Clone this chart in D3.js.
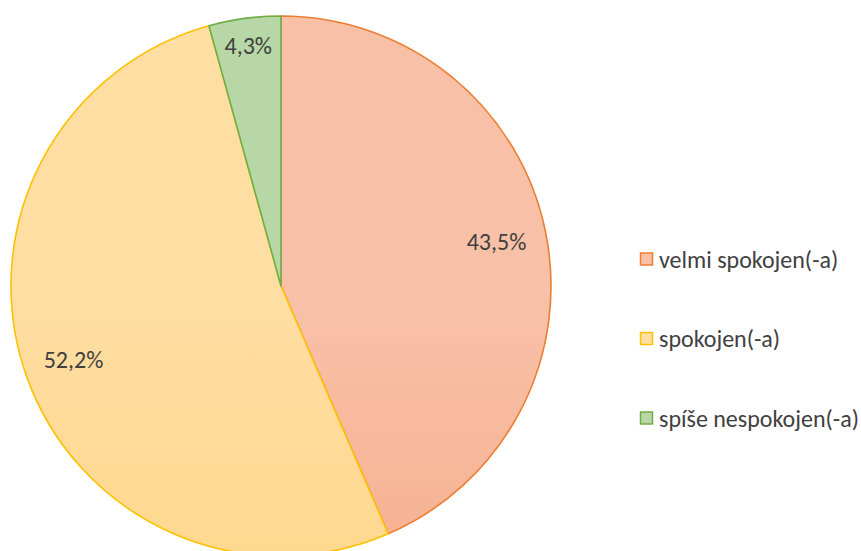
<!DOCTYPE html>
<html>
<head>
<meta charset="utf-8">
<script src="https://cdn.jsdelivr.net/npm/d3@7"></script>
<style>
  body { margin: 0; background: #fff; }
  svg { display: block; font-family: Carlito, "Open Sans", "Noto Sans", sans-serif; }
</style>
</head>
<body>
<svg width="861" height="551"></svg>
<script>
// chart data
const categories = ['velmi spokojen(-a)', 'spokojen(-a)', 'spíše nespokojen(-a)'];
const values = [43.5, 52.2, 4.3];
const labels = ['43,5%', '52,2%', '4,3%'];

const width = 861;
const height = 551;
const cx = 281, cy = 286, radius = 270;

// fill gradients (light top -> darker bottom) and outline colours
const fills = [['#f8c1a7', '#f4a17c'], ['#ffdea3', '#ffd278'], ['#b7d8a6', '#a3cc8b']];
const strokes = ['#ed7d31', '#ffc000', '#70ad47'];

const svg = d3.select('svg');
const defs = svg.append('defs');

fills.forEach((f, i) => {
    const g = defs.append('linearGradient')
        .attr('id', 'grad' + i)
        .attr('gradientUnits', 'userSpaceOnUse')
        .attr('x1', 0).attr('y1', cy - radius)
        .attr('x2', 0).attr('y2', cy + radius);
    g.append('stop').attr('offset', '0%').attr('stop-color', f[0]);
    g.append('stop').attr('offset', '100%').attr('stop-color', f[1]);
});

const pie = d3.pie().sort(null).value(d => d);
const arcs = pie(values);

const arc = d3.arc().innerRadius(0).outerRadius(radius);

const g = svg.append('g').attr('transform', `translate(${cx},${cy})`);

g.selectAll('path')
    .data(arcs)
    .enter().append('path')
    .attr('d', arc)
    .attr('fill', (d, i) => `url(#grad${i})`)
    .attr('stroke', (d, i) => strokes[i])
    .attr('stroke-width', 1.6)
    .attr('stroke-linejoin', 'round');

// labels: big slices sit around 0.8r, thin slice nearer the edge
function labelRadius(d) {
    const span = d.endAngle - d.startAngle;
    return span < 0.5 ? radius * 0.9 : radius * 0.815;
}

g.selectAll('text.lbl')
    .data(arcs)
    .enter().append('text')
    .attr('class', 'lbl')
    .attr('x', d => {
        const a = (d.startAngle + d.endAngle) / 2;
        return Math.sin(a) * labelRadius(d);
    })
    .attr('y', d => {
        const a = (d.startAngle + d.endAngle) / 2;
        return -Math.cos(a) * labelRadius(d);
    })
    .attr('text-anchor', 'middle')
    .attr('dominant-baseline', 'central')
    .attr('fill', '#404040')
    .attr('font-size', 24)
    .text((d, i) => labels[i]);

// legend
const legend = svg.append('g').attr('transform', 'translate(640,259)');
const row = legend.selectAll('g')
    .data(categories)
    .enter().append('g')
    .attr('transform', (d, i) => `translate(0,${i * 79.5})`);

row.append('rect')
    .attr('x', 0.5).attr('y', -6)
    .attr('width', 12).attr('height', 12)
    .attr('fill', (d, i) => fills[i][0])
    .attr('stroke', (d, i) => strokes[i])
    .attr('stroke-width', 1.5);

row.append('text')
    .attr('x', 19)
    .attr('y', 0)
    .attr('dominant-baseline', 'central')
    .attr('fill', '#404040')
    .attr('font-size', 24)
    .text(d => d);
</script>
</body>
</html>
